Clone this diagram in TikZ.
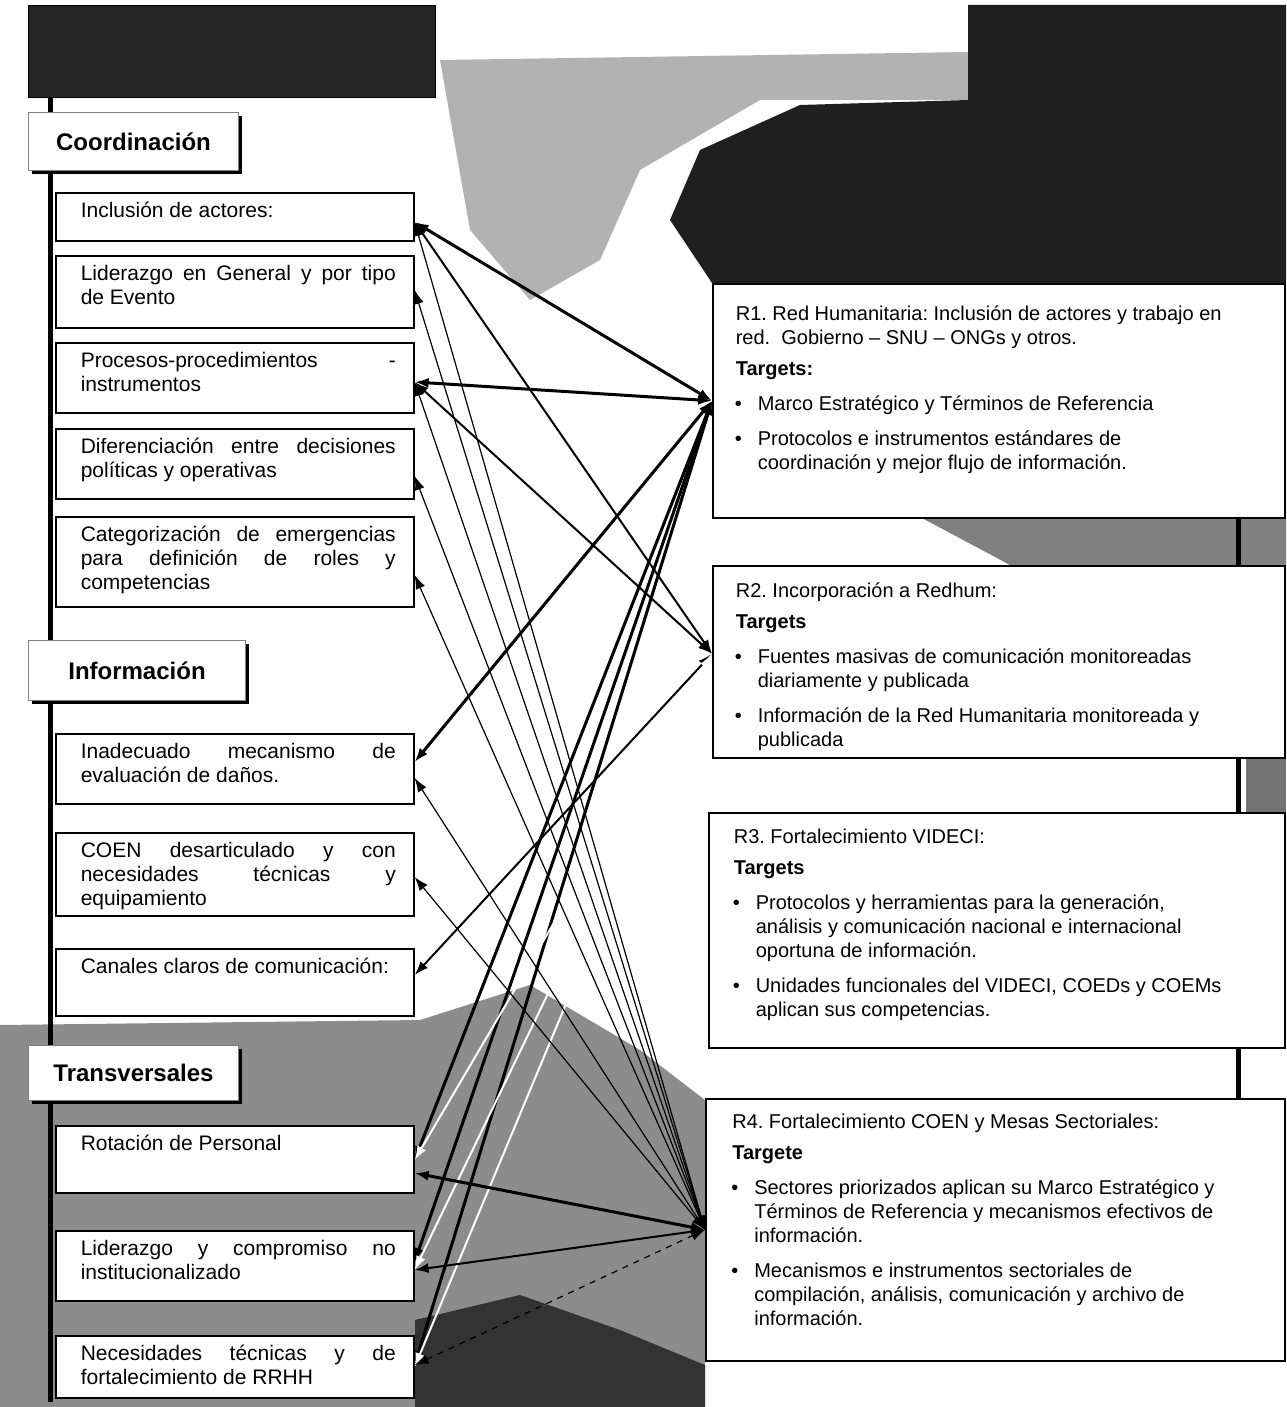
\documentclass[tikz,border=0pt]{standalone}
\usepackage{fontspec}
\setmainfont{Liberation Sans}
\usetikzlibrary{arrows.meta,shadows}
\frenchspacing

\newcommand\izq[2]{\hspace*{12.5pt}\parbox[t][#1][t]{157.5pt}{\rule{0pt}{12.5pt}#2}\hspace*{9pt}}
\newcommand\der[3]{\hspace*{11.5pt}\parbox[t][#1][t]{270pt}{\raggedright\rule{0pt}{#2}#3}\hspace*{4.5pt}}
\newcommand\meta[1]{\par\vspace{5.5pt}\hangindent=11pt\hangafter=0\noindent\llap{\textbullet\hskip 8pt}#1}

\tikzset{
    caja/.style={draw, line width=0.8pt, fill=white, anchor=north west, inner sep=0pt, font=\fontsize{10.5}{12}\selectfont},
    cabeza/.style={draw=black!50, line width=0.5pt, fill=white, anchor=north west, inner sep=0pt, font=\bfseries\fontsize{12}{14}\selectfont, drop shadow={shadow xshift=1.8pt, shadow yshift=-1.8pt, fill=black, opacity=1}},
    resultado/.style={draw, line width=0.8pt, fill=white, anchor=north west, inner sep=0pt, font=\fontsize{10}{12}\selectfont},
    oscuro/.style={draw, fill=black!85, anchor=north west, inner sep=0pt},
    flecha/.style={<->, >={Latex[length=7pt,width=5pt]}, line width=0.6pt},
    grueso/.style={line width=1.5pt},
    medio/.style={line width=1pt}
}

\begin{document}
\begin{tikzpicture}[x=0.5pt, y=-0.5pt]
        \useasboundingbox (0,0) rectangle (1286,1407);
        \fill[black!30] (440,60) -- (968,52) -- (968,100) -- (760,100) -- (640,170) -- (600,260) -- (530,300) -- (470,230) -- cycle;
        \fill[black!88] (968,5) -- (1286,5) -- (1286,283) -- (712,283) -- (670,220) -- (700,150) -- (800,105) -- (968,100) -- cycle;
        \fill[black!50] (920,517) -- (1286,517) -- (1286,565) -- (1010,565) -- cycle;
        \fill[black!55] (1246,757) rectangle (1286,812);
        \fill[black!45] (0,1025) -- (420,1020) -- (530,985) -- (640,1050) -- (705,1100) -- (705,1407) -- (0,1407) -- cycle;
        \fill[black!80] (415,1320) -- (520,1295) -- (620,1330) -- (705,1365) -- (705,1407) -- (415,1407) -- cycle;
        \draw[line width=2.5pt] (50,97) -- (50,1402);
        \draw[line width=2.5pt] (1238,283) -- (1238,1098);

        \path node[oscuro, minimum width=203.5pt, minimum height=46pt] (tit) at (28,5) {}
        node[cabeza, minimum width=105pt, minimum height=29pt] (coord) at (28,112) {Coordinación}
        node[cabeza, minimum width=108.5pt, minimum height=30pt] (info) at (28,640) {Información}
        node[cabeza, minimum width=105pt, minimum height=27.5pt] (trans) at (28,1045) {Transversales};

        \path node[caja] (incl) at (55,192) {\izq{24pt}{Inclusión de actores:}}
        node[caja] (lider) at (55,255) {\izq{36pt}{Liderazgo en General y por tipo\linebreak de Evento}}
        node[caja] (proc) at (55,342) {\izq{35pt}{Procesos-procedimientos -\linebreak instrumentos}}
        node[caja] (dif) at (55,428) {\izq{35pt}{Diferenciación entre decisiones\linebreak políticas y operativas}}
        node[caja] (cat) at (55,516) {\izq{45pt}{Categorización de emergencias\linebreak para definición de roles y\linebreak competencias}}
        node[caja] (inad) at (55,733) {\izq{35pt}{Inadecuado mecanismo de\linebreak evaluación de daños.}}
        node[caja] (coen) at (55,832) {\izq{41.5pt}{COEN desarticulado y con\linebreak necesidades técnicas y\linebreak equipamiento}}
        node[caja] (canal) at (55,948) {\izq{33.5pt}{Canales claros de comunicación:}}
        node[caja] (rot) at (55,1125) {\izq{33.5pt}{Rotación de Personal}}
        node[caja] (liderc) at (55,1230) {\izq{35pt}{Liderazgo y compromiso no\linebreak institucionalizado}}
        node[caja] (nec) at (55,1335) {\izq{31pt}{Necesidades técnicas y de\linebreak fortalecimiento de RRHH}};

        \path node[resultado, minimum width=286pt] (r1) at (712,283) {\der{117pt}{18.5pt}{R1. Red Humanitaria: Inclusión de actores y trabajo en\newline red.\ \ Gobierno -- SNU -- ONGs y otros.\par\vspace{3.5pt}\textbf{Targets:}\meta{Marco Estratégico y Términos de Referencia}\meta{Protocolos e instrumentos estándares de\newline coordinación y mejor flujo de información.}}}
        node[resultado, minimum width=286pt] (r2) at (712,565) {\der{96pt}{16pt}{R2. Incorporación a Redhum:\par\vspace{3.5pt}\textbf{Targets}\meta{Fuentes masivas de comunicación monitoreadas\newline diariamente y publicada}\meta{Información de la Red Humanitaria monitoreada y\newline publicada}}}
        node[resultado, minimum width=288pt] (r3) at (708,812) {\der{117.5pt}{15.5pt}{R3. Fortalecimiento VIDECI:\par\vspace{3.5pt}\textbf{Targets}\meta{Protocolos y herramientas para la generación,\newline análisis y comunicación nacional e internacional\newline oportuna de información.}\meta{Unidades funcionales del VIDECI, COEDs y COEMs\newline aplican sus competencias.}}}
        node[resultado, minimum width=289.5pt] (r4) at (705,1098) {\der{131pt}{15pt}{R4. Fortalecimiento COEN y Mesas Sectoriales:\par\vspace{3.5pt}\textbf{Targete}\meta{Sectores priorizados aplican su Marco Estratégico y\newline Términos de Referencia y mecanismos efectivos de\newline información.}\meta{Mecanismos e instrumentos sectoriales de\newline compilación, análisis, comunicación y archivo de\newline información.}}};

        \draw[flecha, grueso] ([yshift=-15pt]incl.north east) -- (r1.west);
        \draw[flecha, grueso] ([yshift=-20pt]proc.north east) -- (r1.west);
        \draw[flecha, grueso] ([yshift=-14.5pt]inad.north east) -- (r1.west);
        \draw[flecha, grueso] (r1.west) -- ([yshift=-17.5pt]rot.north east);
        \draw[flecha, grueso] (r1.west) -- ([yshift=-16pt]liderc.north east);
        \draw[flecha, grueso] (r1.west) -- ([yshift=-15pt]nec.north east);

        \draw[flecha, medio] ([yshift=-15pt]incl.north east) -- ([yshift=4pt]r2.west);
        \draw[flecha, medio] ([yshift=-20pt]proc.north east) -- ([yshift=4pt]r2.west);
        \draw[flecha, medio] ([yshift=-13.5pt]canal.north east) -- ([yshift=4pt]r2.west);
        \draw[flecha, medio, white] ([yshift=4pt]r2.west) -- ([yshift=-17.5pt]rot.north east);
        \draw[flecha, medio, white] ([yshift=4pt]r2.west) -- ([yshift=-20pt]liderc.north east);
        \draw[flecha, medio, white] ([yshift=4pt]r2.west) -- ([yshift=-16pt]nec.north east);

        \draw[flecha] ([yshift=-15pt]incl.north east) -- (r4.west);
        \draw[flecha] ([yshift=-17.5pt]lider.north east) -- (r4.west);
        \draw[flecha] ([yshift=-20pt]proc.north east) -- (r4.west);
        \draw[flecha] ([yshift=-24pt]dif.north east) -- (r4.west);
        \draw[flecha] ([yshift=-29.5pt]cat.north east) -- (r4.west);
        \draw[flecha] ([yshift=-22.5pt]inad.north east) -- (r4.west);
        \draw[flecha] ([yshift=-22.5pt]coen.north east) -- (r4.west);
        \draw[flecha, grueso] ([yshift=-24pt]rot.north east) -- (r4.west);
        \draw[flecha, medio] ([yshift=-20pt]liderc.north east) -- (r4.west);
        \draw[flecha, dashed] ([yshift=-15pt]nec.north east) -- (r4.west);
\end{tikzpicture}
\end{document}
